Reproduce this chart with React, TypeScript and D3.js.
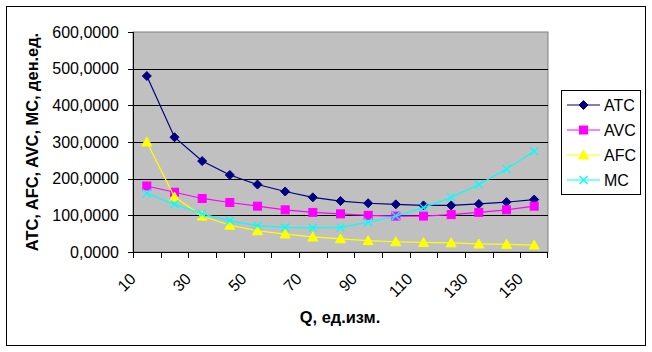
import React from "react";
import * as d3 from "d3";

// Q, ед.изм.
const categories = [10, 20, 30, 40, 50, 60, 70, 80, 90, 100, 110, 120, 130, 140, 150];
const atc = [480, 313, 248, 210, 184, 165, 149, 139, 133, 130, 127, 127, 131, 136, 143];
const avc = [180, 163, 146, 135, 125, 115, 108, 104, 100, 98, 98, 102, 108, 115, 125];
const afc = [300, 150, 98, 73, 58, 49, 41, 36, 31, 28, 26, 25, 22, 21, 19];
const mc = [160, 130, 104, 85, 72, 67, 66, 67, 81, 98, 121, 149, 184, 226, 275];
const yTicks = [0, 100, 200, 300, 400, 500, 600];
const xLabels = [10, 30, 50, 70, 90, 110, 130, 150];

const series = [
  { name: "ATC", values: atc, color: "#000080", marker: "diamond" },
  { name: "AVC", values: avc, color: "#FF00FF", marker: "square" },
  { name: "AFC", values: afc, color: "#FFFF00", marker: "triangle" },
  { name: "MC", values: mc, color: "#00FFFF", marker: "cross" },
];

const font = "Arial, 'Liberation Sans', sans-serif";

function Marker({ type, x, y, color }: { type: string; x: number; y: number; color: string }) {
  if (type === "diamond")
    return <path d={`M${x},${y - 4.5}L${x + 4.5},${y}L${x},${y + 4.5}L${x - 4.5},${y}Z`} fill={color} stroke={color} />;
  if (type === "square")
    return <rect x={x - 4} y={y - 4} width={8} height={8} fill={color} stroke={color} />;
  if (type === "triangle")
    return <path d={`M${x},${y - 5}L${x + 5},${y + 4}L${x - 5},${y + 4}Z`} fill={color} stroke={color} />;
  return (
    <path d={`M${x - 4},${y - 4}L${x + 4},${y + 4}M${x - 4},${y + 4}L${x + 4},${y - 4}`} stroke={color} strokeWidth={1.3} fill="none" />
  );
}

export default function App() {
  const left = 133, right = 548, top = 32, bottom = 252;
  const x = d3.scaleBand<number>().domain(categories).range([left, right]);
  const y = d3.scaleLinear().domain([0, 600]).range([bottom, top]);
  const cx = (q: number) => (x(q) as number) + x.bandwidth() / 2;
  const line = d3.line<number>().x((_, i) => cx(categories[i])).y((d) => y(d));

  const legendY = [105, 130, 155, 180];

  return (
    <svg width={652} height={352} style={{ position: "fixed", left: 0, top: 0, background: "#fff" }} fontFamily={font}>
      <rect x={6.5} y={6.5} width={639} height={339} fill="#fff" stroke="#000" />
      {/* plot area */}
      <rect x={left} y={top} width={right - left} height={bottom - top} fill="#C0C0C0" stroke="#808080" />
      {yTicks.slice(1, -1).map((t) => (
        <line key={t} x1={left} x2={right} y1={Math.round(y(t)) + 0.5} y2={Math.round(y(t)) + 0.5} stroke="#000" />
      ))}
      {/* y axis */}
      <line x1={left + 0.5} x2={left + 0.5} y1={top} y2={bottom + 0.5} stroke="#000" />
      {yTicks.map((t) => (
        <g key={t}>
          <line x1={left - 5} x2={left} y1={Math.round(y(t)) + 0.5} y2={Math.round(y(t)) + 0.5} stroke="#000" />
          <text x={119} y={y(t) + 5.5} textAnchor="end" fontSize={16}>
            {d3.format(".4f")(t).replace(".", ",")}
          </text>
        </g>
      ))}
      {/* x axis */}
      <line x1={left} x2={right} y1={bottom + 0.5} y2={bottom + 0.5} stroke="#000" />
      {categories.map((c) => (
        <line key={c} x1={Math.round(x(c) as number) + 0.5} x2={Math.round(x(c) as number) + 0.5} y1={bottom} y2={bottom + 6} stroke="#000" />
      ))}
      <line x1={right - 0.5} x2={right - 0.5} y1={bottom} y2={bottom + 6} stroke="#000" />
      {xLabels.map((c) => (
        <text key={c} transform={`translate(${cx(c) - 10},${280}) rotate(-45)`} textAnchor="end" fontSize={16}>
          {c}
        </text>
      ))}
      {/* series */}
      {series.map((s) => (
        <g key={s.name}>
          <path d={line(s.values) as string} fill="none" stroke={s.color} strokeWidth={1.2} />
          {s.values.map((v, i) => (
            <Marker key={i} type={s.marker} x={cx(categories[i])} y={y(v)} color={s.color} />
          ))}
        </g>
      ))}
      {/* titles */}
      <text transform={`translate(38,${(top + bottom) / 2}) rotate(-90)`} textAnchor="middle" fontSize={16.4} fontWeight="bold">
        ATC, AFC, AVC, MC, ден.ед.
      </text>
      <text x={340} y={323} textAnchor="middle" fontSize={16.4} fontWeight="bold">
        Q, ед.изм.
      </text>
      {/* legend */}
      <rect x={561.5} y={90.5} width={79} height={104} fill="#fff" stroke="#000" />
      {series.map((s, i) => (
        <g key={s.name}>
          <line x1={567} x2={600} y1={legendY[i]} y2={legendY[i]} stroke={s.color} strokeWidth={1.2} />
          <Marker type={s.marker} x={583.5} y={legendY[i]} color={s.color} />
          <text x={604} y={legendY[i] + 5.5} fontSize={16}>
            {s.name}
          </text>
        </g>
      ))}
    </svg>
  );
}
